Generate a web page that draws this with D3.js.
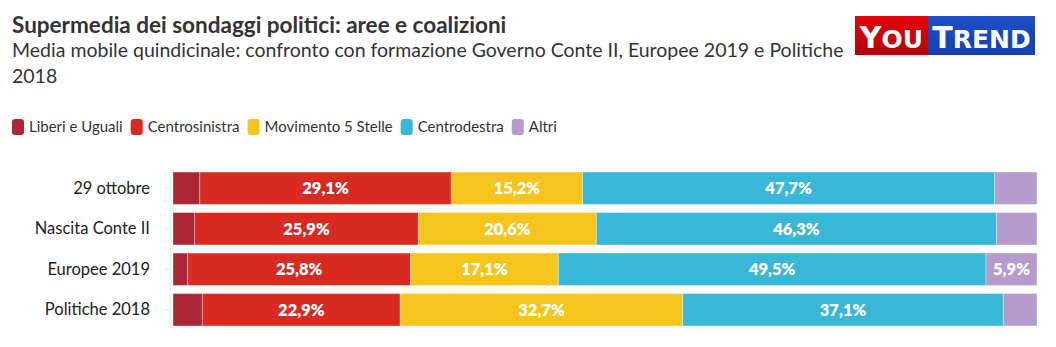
<!DOCTYPE html>
<html>
<head>
<meta charset="utf-8">
<script src="https://cdn.jsdelivr.net/npm/d3@7"></script>
<style>
  body { margin: 0; background: #fff; font-family: Lato, "Open Sans", sans-serif; }
  svg { display: block; }
</style>
</head>
<body>
<svg id="chart" width="1056" height="347"></svg>
<script>
// data
const categories = ["29 ottobre", "Nascita Conte II", "Europee 2019", "Politiche 2018"];
const seriesNames = ["Liberi e Uguali", "Centrosinistra", "Movimento 5 Stelle", "Centrodestra", "Altri"];
const seriesColors = ["#ac2634", "#d82a21", "#f6c51d", "#38b7d6", "#b39ccb"];
const leu = [3.1, 2.5, 1.7, 3.4];
const centrosinistra = [29.1, 25.9, 25.8, 22.9];
const m5s = [15.2, 20.6, 17.1, 32.7];
const centrodestra = [47.7, 46.3, 49.5, 37.1];
const altri = [4.9, 4.7, 5.9, 3.9];
const minLabel = 5; // show labels only for wide enough segments

const svg = d3.select("#chart");

// title block
svg.append("text").attr("x", 12).attr("y", 33)
  .attr("font-size", 22.5).attr("font-weight", 700).attr("fill", "#333")
  .text("Supermedia dei sondaggi politici: aree e coalizioni");
svg.append("text").attr("x", 12).attr("y", 57)
  .attr("font-size", 19.5).attr("fill", "#333")
  .text("Media mobile quindicinale: confronto con formazione Governo Conte II, Europee 2019 e Politiche");
svg.append("text").attr("x", 12).attr("y", 83)
  .attr("font-size", 19.5).attr("fill", "#333")
  .text("2018");

// logo
const logo = svg.append("g").attr("transform", "translate(855,16)");
const defs = svg.append("defs");
const gr = defs.append("linearGradient").attr("id", "gred").attr("x1", 0).attr("x2", 0).attr("y1", 0).attr("y2", 1);
gr.append("stop").attr("offset", 0).attr("stop-color", "#e3060c");
gr.append("stop").attr("offset", 1).attr("stop-color", "#b30005");
const gb = defs.append("linearGradient").attr("id", "gblue").attr("x1", 0).attr("x2", 0).attr("y1", 0).attr("y2", 1);
gb.append("stop").attr("offset", 0).attr("stop-color", "#1e4fc8");
gb.append("stop").attr("offset", 1).attr("stop-color", "#1440b0");
logo.append("rect").attr("width", 73).attr("height", 39).attr("fill", "url(#gred)");
logo.append("rect").attr("x", 73).attr("width", 107).attr("height", 39).attr("fill", "url(#gblue)");
const lt = logo.append("text").attr("x", 36.5).attr("y", 32).attr("text-anchor", "middle")
  .attr("fill", "#fff").attr("font-family", "DejaVu Sans, sans-serif").attr("font-weight", 700);
lt.append("tspan").attr("font-size", 30).text("Y");
lt.append("tspan").attr("font-size", 25).text("OU");
const lt2 = logo.append("text").attr("x", 126.5).attr("y", 32).attr("text-anchor", "middle")
  .attr("fill", "#fff").attr("font-family", "DejaVu Sans, sans-serif").attr("font-weight", 700);
lt2.append("tspan").attr("font-size", 30).text("T");
lt2.append("tspan").attr("font-size", 25).text("REND");

// legend
const legend = svg.append("g").attr("transform", "translate(12,119)");
let lx = 0;
seriesNames.forEach((name, i) => {
  const g = legend.append("g").attr("transform", `translate(${lx},0)`);
  g.append("rect").attr("width", 12).attr("height", 16).attr("rx", 3).attr("fill", seriesColors[i]);
  const t = g.append("text").attr("x", 17).attr("y", 13).attr("font-size", 15).attr("fill", "#333").text(name);
  lx += 17 + t.node().getComputedTextLength() + 8;
});

// chart
const margin = { left: 173, right: 19, top: 170, bottom: 19 };
const width = 1056 - margin.left - margin.right;
const x = d3.scaleLinear().domain([0, 100]).range([0, width]);
const y = d3.scaleBand().domain(categories).range([0, 158]).paddingInner(0.2).paddingOuter(0.05);

const g = svg.append("g").attr("transform", `translate(${margin.left},${margin.top})`);

const table = categories.map((c, i) => ({
  cat: c,
  "Liberi e Uguali": leu[i],
  "Centrosinistra": centrosinistra[i],
  "Movimento 5 Stelle": m5s[i],
  "Centrodestra": centrodestra[i],
  "Altri": altri[i]
}));
const stack = d3.stack().keys(seriesNames)(table);

stack.forEach((layer, i) => {
  const lg = g.append("g");
  lg.selectAll("rect").data(layer).join("rect")
    .attr("x", d => x(d[0]))
    .attr("y", d => y(d.data.cat))
    .attr("width", d => x(d[1]) - x(d[0]))
    .attr("height", y.bandwidth())
    .attr("fill", seriesColors[i])
    .attr("stroke", "rgba(255,255,255,0.35)")
    .attr("stroke-width", 1);
  lg.selectAll("text").data(layer.filter(d => d[1] - d[0] >= minLabel)).join("text")
    .attr("x", d => x((d[0] + d[1]) / 2))
    .attr("y", d => y(d.data.cat) + y.bandwidth() / 2 + 6)
    .attr("text-anchor", "middle")
    .attr("font-size", 16.5).attr("font-weight", 800).attr("fill", "#fff")
    .text(d => (d[1] - d[0]).toFixed(1).replace(".", ",") + "%");
});

// y axis
const yAxis = g.append("g").attr("transform", "translate(-3,0)")
  .call(d3.axisLeft(y).tickSize(6).tickPadding(14));
yAxis.select(".domain").attr("stroke", "#e6e6e6").attr("d", "M0,0V158");
yAxis.selectAll(".tick line").attr("stroke", "#e6e6e6");
yAxis.selectAll(".tick text").attr("font-size", 16.5).attr("fill", "#222")
  .attr("font-family", "Lato, sans-serif");
</script>
</body>
</html>
